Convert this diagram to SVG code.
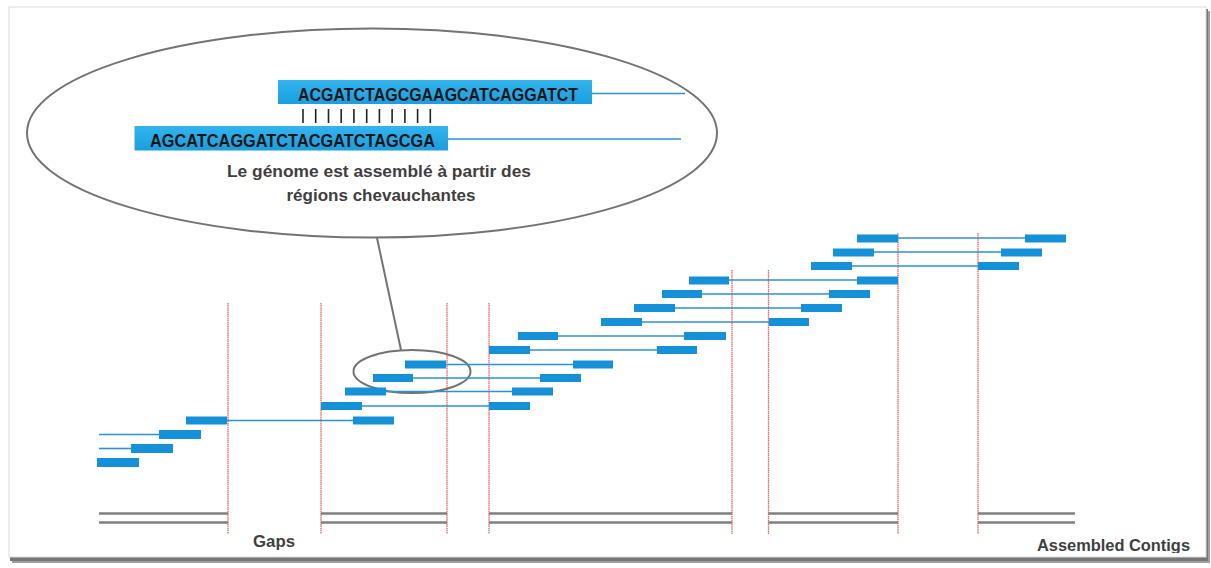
<svg xmlns="http://www.w3.org/2000/svg" width="1211" height="568" viewBox="0 0 1211 568">
<defs>
<style>
.read{fill:#1591da}
.link{stroke:#2b92d4;stroke-width:1.6;fill:none}
.gap{stroke:#e0403a;stroke-width:1.3;stroke-dasharray:1.5 0.6;opacity:0.8}
.contig{stroke:#7f7f7f;stroke-width:2.4}
.oval{fill:none;stroke:#737373;stroke-width:2}
.seqbox{fill:url(#seqg)}
.seq{font-family:"Liberation Sans",Arial,sans-serif;font-weight:bold;font-size:17.5px;fill:#161616}
.lbl{font-family:"Liberation Sans",Arial,sans-serif;font-weight:bold;font-size:16px;fill:#3f3f3f}
.tick{stroke:#222;stroke-width:1.6}
</style>
<linearGradient id="seqg" x1="0" y1="0" x2="0" y2="1">
<stop offset="0" stop-color="#33b4ee"/>
<stop offset="1" stop-color="#1a9ee0"/>
</linearGradient>
<clipPath id="frameclip"><rect x="10" y="8" width="1196" height="545"/></clipPath>
</defs>
<rect x="0" y="0" width="1211" height="568" fill="#ffffff"/>
<g id="frame">
<rect x="12" y="11" width="1198" height="552" fill="#a0a0a0"/>
<rect x="10" y="9" width="1198" height="552" fill="#767676"/>
<rect x="9" y="7" width="1197" height="550" fill="#ffffff" stroke="#dcdcdc" stroke-width="1"/>
</g>
<g id="zoom-callout">
<ellipse class="oval" cx="372" cy="133" rx="345" ry="104.5"/>
<line x1="377" y1="238" x2="401" y2="350" stroke="#737373" stroke-width="2"/>
<ellipse class="oval" cx="412" cy="371.5" rx="58.5" ry="21.5"/>
</g>
<g id="seq-top">
<rect class="seqbox" x="278" y="80" width="314" height="24"/>
<line class="link" x1="592" y1="93.5" x2="685" y2="93.5"/>
<text class="seq" x="298" y="100.5" textLength="280" lengthAdjust="spacingAndGlyphs">ACGATCTAGCGAAGCATCAGGATCT</text>
</g>
<g id="seq-ticks">
<line class="tick" x1="303" y1="109" x2="303" y2="123"/>
<line class="tick" x1="315.7" y1="109" x2="315.7" y2="123"/>
<line class="tick" x1="328.5" y1="109" x2="328.5" y2="123"/>
<line class="tick" x1="341.2" y1="109" x2="341.2" y2="123"/>
<line class="tick" x1="353.9" y1="109" x2="353.9" y2="123"/>
<line class="tick" x1="366.7" y1="109" x2="366.7" y2="123"/>
<line class="tick" x1="379.4" y1="109" x2="379.4" y2="123"/>
<line class="tick" x1="392.1" y1="109" x2="392.1" y2="123"/>
<line class="tick" x1="404.9" y1="109" x2="404.9" y2="123"/>
<line class="tick" x1="417.6" y1="109" x2="417.6" y2="123"/>
<line class="tick" x1="430.3" y1="109" x2="430.3" y2="123"/>
</g>
<g id="seq-bottom">
<rect class="seqbox" x="134.5" y="126" width="313.5" height="24.5"/>
<line class="link" x1="448" y1="139" x2="681" y2="139"/>
<text class="seq" x="150" y="147" textLength="285" lengthAdjust="spacingAndGlyphs">AGCATCAGGATCTACGATCTAGCGA</text>
</g>
<g id="caption">
<text class="lbl" x="379" y="177" text-anchor="middle" textLength="304" lengthAdjust="spacingAndGlyphs">Le génome est assemblé à partir des</text>
<text class="lbl" x="381" y="201" text-anchor="middle" textLength="189" lengthAdjust="spacingAndGlyphs">régions chevauchantes</text>
</g>
<g id="gap-lines">
<line class="gap" x1="228" y1="303" x2="228" y2="534"/>
<line class="gap" x1="321" y1="303" x2="321" y2="534"/>
<line class="gap" x1="447" y1="303" x2="447" y2="534"/>
<line class="gap" x1="489" y1="303" x2="489" y2="534"/>
<line class="gap" x1="732" y1="270" x2="732" y2="534"/>
<line class="gap" x1="768.5" y1="270" x2="768.5" y2="534"/>
<line class="gap" x1="898" y1="233" x2="898" y2="534"/>
<line class="gap" x1="978" y1="233" x2="978" y2="534"/>
</g>
<g id="connectors">
<line class="link" x1="99" y1="448.5" x2="131" y2="448.5"/>
<line class="link" x1="99" y1="434.5" x2="159" y2="434.5"/>
<line class="link" x1="227" y1="420.5" x2="353" y2="420.5"/>
<line class="link" x1="362" y1="406" x2="489" y2="406"/>
<line class="link" x1="386" y1="391.5" x2="512" y2="391.5"/>
<line class="link" x1="413" y1="378" x2="540" y2="378"/>
<line class="link" x1="446" y1="364.5" x2="573" y2="364.5"/>
<line class="link" x1="530" y1="350" x2="657" y2="350"/>
<line class="link" x1="558" y1="336" x2="684" y2="336"/>
<line class="link" x1="642" y1="322" x2="769" y2="322"/>
<line class="link" x1="675" y1="308" x2="801" y2="308"/>
<line class="link" x1="702" y1="294" x2="829" y2="294"/>
<line class="link" x1="729" y1="280" x2="857" y2="280"/>
<line class="link" x1="852" y1="266" x2="978" y2="266"/>
<line class="link" x1="874" y1="252" x2="1001" y2="252"/>
<line class="link" x1="898" y1="238" x2="1025" y2="238"/>
</g>
<g id="reads">
<rect class="read" x="97" y="458" width="42" height="9"/>
<rect class="read" x="131" y="444" width="42" height="9"/>
<rect class="read" x="159" y="430" width="42" height="9"/>
<rect class="read" x="186" y="416.5" width="41" height="8"/>
<rect class="read" x="353" y="416.5" width="41" height="8"/>
<rect class="read" x="321" y="402" width="41" height="8"/>
<rect class="read" x="489" y="402" width="41" height="8"/>
<rect class="read" x="345" y="387.5" width="41" height="8"/>
<rect class="read" x="512" y="387.5" width="41" height="8"/>
<rect class="read" x="373" y="374" width="40" height="8"/>
<rect class="read" x="540" y="374" width="41" height="8"/>
<rect class="read" x="405" y="360.5" width="41" height="8"/>
<rect class="read" x="573" y="360.5" width="40" height="8"/>
<rect class="read" x="489" y="346" width="41" height="8"/>
<rect class="read" x="657" y="346" width="40" height="8"/>
<rect class="read" x="518" y="332" width="40" height="8"/>
<rect class="read" x="684" y="332" width="42" height="8"/>
<rect class="read" x="601" y="318" width="41" height="8"/>
<rect class="read" x="769" y="318" width="40" height="8"/>
<rect class="read" x="634" y="304" width="41" height="8"/>
<rect class="read" x="801" y="304" width="41" height="8"/>
<rect class="read" x="662" y="290" width="40" height="8"/>
<rect class="read" x="829" y="290" width="41" height="8"/>
<rect class="read" x="689" y="276.5" width="40" height="8"/>
<rect class="read" x="857" y="276.5" width="41" height="8"/>
<rect class="read" x="811" y="262" width="41" height="8"/>
<rect class="read" x="978" y="262" width="41" height="8"/>
<rect class="read" x="833" y="248.5" width="41" height="8"/>
<rect class="read" x="1001" y="248.5" width="41" height="8"/>
<rect class="read" x="857" y="234.5" width="41" height="8"/>
<rect class="read" x="1025" y="234.5" width="41" height="8"/>
</g>
<g id="contigs">
<line class="contig" x1="99" y1="513.5" x2="228" y2="513.5"/>
<line class="contig" x1="99" y1="522.5" x2="228" y2="522.5"/>
<line class="contig" x1="321" y1="513.5" x2="447" y2="513.5"/>
<line class="contig" x1="321" y1="522.5" x2="447" y2="522.5"/>
<line class="contig" x1="489" y1="513.5" x2="732" y2="513.5"/>
<line class="contig" x1="489" y1="522.5" x2="732" y2="522.5"/>
<line class="contig" x1="768.5" y1="513.5" x2="898" y2="513.5"/>
<line class="contig" x1="768.5" y1="522.5" x2="898" y2="522.5"/>
<line class="contig" x1="978" y1="513.5" x2="1075" y2="513.5"/>
<line class="contig" x1="978" y1="522.5" x2="1075" y2="522.5"/>
</g>
<g id="labels" clip-path="url(#frameclip)">
<text class="lbl" x="253" y="547" textLength="42" lengthAdjust="spacingAndGlyphs">Gaps</text>
<text class="lbl" x="1037" y="551" textLength="153" lengthAdjust="spacingAndGlyphs">Assembled Contigs</text>
</g>
</svg>
